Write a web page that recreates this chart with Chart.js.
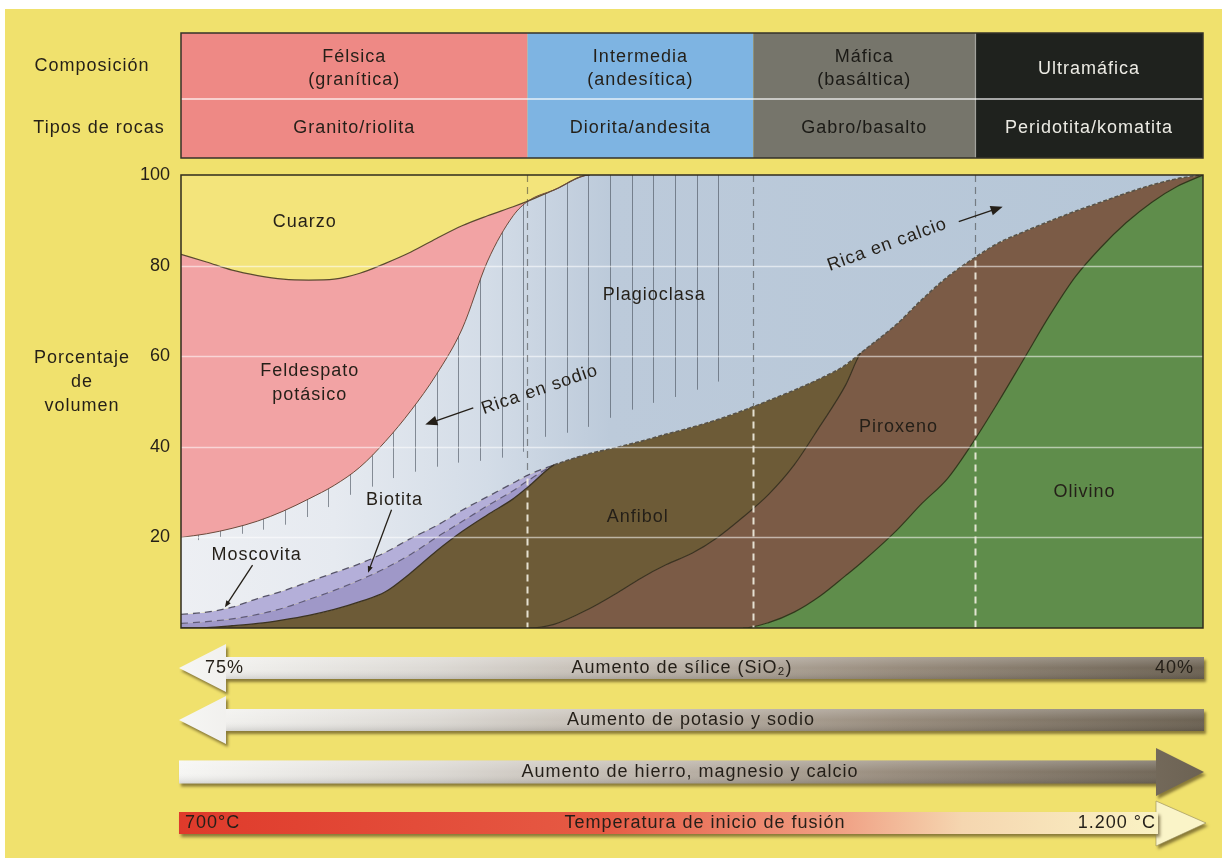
<!DOCTYPE html>
<html lang="es">
<head>
<meta charset="utf-8">
<title>Composición mineral de las rocas ígneas</title>
<script src="https://cdn.jsdelivr.net/npm/chart.js@4.4.1/dist/chart.umd.min.js"></script>
<style>
  html, body { margin: 0; padding: 0; background: #fff; }
  #wrap { width: 1232px; height: 858px; }
</style>
</head>
<body>
<div id="wrap"><canvas id="rocas" width="1232" height="858"></canvas></div>
<script>
// posición horizontal: 0 = extremo félsico, 100 = extremo ultramáfico
const posicion = [0, 2.5, 5, 7.5, 10, 12.5, 15, 17.5, 20, 22.5, 25, 27.5, 30, 32.5, 34, 36.5,
  40, 42.5, 45, 47.5, 50, 52.5, 55, 57.5, 60, 62.5, 65, 66.5, 70, 72.5, 75, 77.5, 80, 82.5,
  85, 87.5, 90, 92.5, 95, 97.5, 100];

// límites superiores (% de volumen acumulado) de cada mineral
const olivino = [0, 0, 0, 0, 0, 0, 0, 0, 0, 0, 0, 0, 0, 0, 0, 0, 0, 0, 0, 0, 0, 0, 0,
  1.2, 3.5, 7, 11.5, 14.3, 21.5, 27.5, 33, 41, 50, 59.5, 69, 77.5, 84, 89.5, 94, 97.5, 100];
const piroxeno = [0, 0, 0, 0, 0, 0, 0, 0, 0, 0, 0, 0, 0, 0, 0, 0.8,
  4.3, 7.5, 11, 14, 16.5, 20, 24.5, 29.5, 36, 44.5, 53.5, 60.7, 67, 72.5, 77.5, 81.5, 85, 87.5,
  89.8, 92, 94, 96, 97.8, 99.2, 100];
const anfibol = [0, 0.1, 0.5, 1, 1.8, 2.8, 4.1, 5.8, 8, 12.2, 17, 21.3, 25, 28.5, 31.2, 36,
  38.5, 39.8, 41.2, 42.8, 44.3, 46, 48, 50.2, 52.5, 55, 58, 60.7, 67, 72.5, 77.5, 81.5, 85, 87.5,
  89.8, 92, 94, 96, 97.8, 99.2, 100];
const biotitaBaja = [1, 1.4, 2, 3, 4.4, 6.3, 8.3, 10.6, 13.2, 16.3, 20, 23.5, 27, 30.3, 32.6, 36,
  38.5, 39.8, 41.2, 42.8, 44.3, 46, 48, 50.2, 52.5, 55, 58, 60.7, 67, 72.5, 77.5, 81.5, 85, 87.5,
  89.8, 92, 94, 96, 97.8, 99.2, 100];
const biotitaAlta = [3, 3.5, 4.6, 6.5, 8.2, 10.2, 12.2, 14.2, 16.7, 19.8, 22.6, 26, 29, 32, 33.8, 36,
  38.5, 39.8, 41.2, 42.8, 44.3, 46, 48, 50.2, 52.5, 55, 58, 60.7, 67, 72.5, 77.5, 81.5, 85, 87.5,
  89.8, 92, 94, 96, 97.8, 99.2, 100];
const plagioclasa = [20, 20.8, 22, 23.6, 25.8, 28.5, 31.5, 35.5, 41.2, 48, 56, 66, 81, 91, 94.3, 96.7,
  100, 100, 100, 100, 100, 100, 100, 100, 100, 100, 100, 100, 100, 100, 100, 100, 100, 100,
  100, 100, 100, 100, 100, 100, 100];
const feldespato = [82.5, 80.8, 79, 77.8, 77, 76.8, 77, 78.3, 80.5, 83, 86, 88.8, 91, 93, 94.3, 96.7,
  100, 100, 100, 100, 100, 100, 100, 100, 100, 100, 100, 100, 100, 100, 100, 100, 100, 100,
  100, 100, 100, 100, 100, 100, 100];

// rayado de la plagioclasa rica en sodio: posición y extremo inferior (%)
const sodioPos = [1.7, 3.8, 6, 8, 10.2, 12.3, 14.4, 16.5, 18.7, 20.7, 22.9, 25, 27.1, 29.3, 31.4,
  33.5, 35.6, 37.8, 39.8, 42, 44.1, 46.2, 48.3, 50.5, 52.5];
const sodioBase = [19.4, 20.1, 20.8, 21.7, 22.8, 24.5, 26.7, 29.4, 31.2, 33.1, 34.5, 35.6, 36.5, 36.9,
  37.6, 38.9, 42.2, 43.1, 44.4, 46.4, 48.2, 49.7, 51, 52.6, 54.4];

// tipos de composición y rocas
const limitesComposicion = [0, 33.9, 56, 77.7, 100];
const composiciones = [["Félsica", "(granítica)"], ["Intermedia", "(andesítica)"], ["Máfica", "(basáltica)"], ["Ultramáfica"]];
const tiposRoca = ["Granito/riolita", "Diorita/andesita", "Gabro/basalto", "Peridotita/komatita"];
const ticksY = [0, 20, 40, 60, 80, 100];

const fuente = '"Liberation Sans", Arial, Helvetica, sans-serif';
const tinta = "#241f18";
const transparente = "rgba(0,0,0,0)";
const lineaOscura = "#3a3222";

const puntos = (serie) => serie.map((v, i) => ({ x: posicion[i], y: v }));

function interpolar(xs, ys, x) {
  for (let i = 1; i < xs.length; i++) {
    if (x <= xs[i]) {
      const t = (x - xs[i - 1]) / (xs[i] - xs[i - 1]);
      return ys[i - 1] + t * (ys[i] - ys[i - 1]);
    }
  }
  return ys[ys.length - 1];
}

function texto(ctx, str, x, y, opts = {}) {
  ctx.save();
  ctx.font = (opts.weight || "normal") + " " + (opts.size || 18) + "px " + fuente;
  if ("letterSpacing" in ctx) ctx.letterSpacing = (opts.spacing ?? 1) + "px";
  ctx.fillStyle = opts.color || tinta;
  ctx.textAlign = opts.align || "center";
  ctx.textBaseline = "middle";
  ctx.translate(x, y);
  if (opts.angle) ctx.rotate((opts.angle * Math.PI) / 180);
  ctx.fillText(str, 0, 0);
  ctx.restore();
}

function flecha(ctx, x1, y1, x2, y2, head) {
  const a = Math.atan2(y2 - y1, x2 - x1);
  ctx.save();
  ctx.strokeStyle = tinta;
  ctx.fillStyle = tinta;
  ctx.lineWidth = 1.3;
  ctx.beginPath();
  ctx.moveTo(x1, y1);
  ctx.lineTo(x2 - Math.cos(a) * head * 0.7, y2 - Math.sin(a) * head * 0.7);
  ctx.stroke();
  ctx.beginPath();
  ctx.moveTo(x2, y2);
  ctx.lineTo(x2 - head * Math.cos(a - 0.38), y2 - head * Math.sin(a - 0.38));
  ctx.lineTo(x2 - head * Math.cos(a + 0.38), y2 - head * Math.sin(a + 0.38));
  ctx.closePath();
  ctx.fill();
  ctx.restore();
}

const fondo = {
  id: "fondo",
  beforeDraw(chart) {
    const ctx = chart.ctx;
    ctx.save();
    ctx.fillStyle = "#ffffff";
    ctx.fillRect(0, 0, chart.width, chart.height);
    ctx.fillStyle = "#F0E16D";
    ctx.fillRect(5, 9, 1217, 849);
    ctx.restore();
  },
};

// líneas verticales de la plagioclasa rica en sodio (bajo el feldespato y el cuarzo)
const rayado = {
  id: "rayado",
  afterDatasetDraw(chart, args) {
    if (args.index !== 5) return;
    const { ctx, chartArea: a, scales: { x, y } } = chart;
    ctx.save();
    ctx.beginPath();
    ctx.rect(a.left, a.top, a.width, a.height);
    ctx.clip();
    ctx.strokeStyle = "rgba(70,78,90,0.6)";
    ctx.lineWidth = 1;
    sodioPos.forEach((p, i) => {
      const px = Math.round(x.getPixelForValue(p)) + 0.5;
      ctx.beginPath();
      ctx.moveTo(px, y.getPixelForValue(100));
      ctx.lineTo(px, y.getPixelForValue(sodioBase[i]));
      ctx.stroke();
    });
    ctx.restore();
  },
};

const superpuesto = {
  id: "superpuesto",
  afterDatasetsDraw(chart) {
    const { ctx, chartArea: a, scales: { x, y } } = chart;
    ctx.save();
    // rejilla horizontal
    ctx.strokeStyle = "rgba(255,255,255,0.55)";
    ctx.lineWidth = 1.6;
    ticksY.slice(1, -1).forEach((v) => {
      const py = Math.round(y.getPixelForValue(v)) + 0.5;
      ctx.beginPath();
      ctx.moveTo(a.left, py);
      ctx.lineTo(a.right, py);
      ctx.stroke();
    });
    // divisiones de composición
    limitesComposicion.slice(1, -1).forEach((lim) => {
      const px = Math.round(x.getPixelForValue(lim)) + 0.5;
      const corte = y.getPixelForValue(interpolar(posicion, biotitaAlta, lim));
      ctx.setLineDash([7, 5]);
      ctx.strokeStyle = "rgba(60,60,60,0.55)";
      ctx.lineWidth = 1.2;
      ctx.beginPath();
      ctx.moveTo(px, a.top);
      ctx.lineTo(px, corte);
      ctx.stroke();
      ctx.strokeStyle = "rgba(242,238,225,0.9)";
      ctx.lineWidth = 2;
      ctx.beginPath();
      ctx.moveTo(px, corte + 3);
      ctx.lineTo(px, a.bottom);
      ctx.stroke();
    });
    ctx.setLineDash([]);
    // marco
    ctx.strokeStyle = "#2f2b1e";
    ctx.lineWidth = 1.5;
    ctx.strokeRect(a.left, a.top, a.width, a.height);
    ctx.restore();

    const P = (u, v) => [x.getPixelForValue(u), y.getPixelForValue(v)];
    const rotulos = [
      ["Cuarzo", 12.1, 89.7],
      ["Feldespato", 12.6, 56.8],
      ["potásico", 12.6, 51.5],
      ["Plagioclasa", 46.3, 73.4],
      ["Biotita", 20.9, 28.3],
      ["Moscovita", 7.4, 16.1],
      ["Anfibol", 44.7, 24.5],
      ["Piroxeno", 70.2, 44.4],
      ["Olivino", 88.4, 30],
    ];
    rotulos.forEach(([t, u, v]) => {
      const [px, py] = P(u, v);
      texto(ctx, t, px, py);
    });
    let [px, py] = P(35.1, 52.6);
    texto(ctx, "Rica en sodio", px, py, { angle: -19 });
    [px, py] = P(69.1, 84.6);
    texto(ctx, "Rica en calcio", px, py, { angle: -20 });
    flecha(ctx, ...P(28.6, 48.6), ...P(23.9, 44.9), 13);
    flecha(ctx, ...P(76.1, 89.7), ...P(80.4, 93), 13);
    flecha(ctx, ...P(20.6, 26.1), ...P(18.3, 12.2), 7);
    flecha(ctx, ...P(7.0, 13.9), ...P(4.3, 4.6), 7);
  },
  afterDraw(chart) {
    const { ctx, chartArea: a, scales: { x } } = chart;
    // tabla de cabecera
    const top = 33, mid = 99, bottom = 158;
    const colores = ["#EE8985", "#7EB4E2", "#76756B", "#1F221E"];
    const letras = [tinta, tinta, "#1b1a16", "#ecebe4"];
    ctx.save();
    composiciones.forEach((nombre, i) => {
      const x0 = x.getPixelForValue(limitesComposicion[i]);
      const x1 = x.getPixelForValue(limitesComposicion[i + 1]);
      ctx.fillStyle = colores[i];
      ctx.fillRect(x0, top, x1 - x0, bottom - top);
      const cx = (x0 + x1) / 2;
      if (nombre.length === 2) {
        texto(ctx, nombre[0], cx, 57, { color: letras[i] });
        texto(ctx, nombre[1], cx, 80, { color: letras[i] });
      } else {
        texto(ctx, nombre[0], cx, 69, { color: letras[i] });
      }
      texto(ctx, tiposRoca[i], cx, 128, { color: letras[i] });
      if (i === 3) {
        ctx.strokeStyle = "rgba(255,255,255,0.55)";
        ctx.lineWidth = 1.2;
        ctx.beginPath();
        ctx.moveTo(Math.round(x0) + 0.5, top);
        ctx.lineTo(Math.round(x0) + 0.5, bottom);
        ctx.stroke();
      }
    });
    ctx.strokeStyle = "rgba(255,255,255,0.8)";
    ctx.lineWidth = 1.5;
    ctx.beginPath();
    ctx.moveTo(a.left, mid);
    ctx.lineTo(a.right, mid);
    ctx.stroke();
    ctx.strokeStyle = "#34322a";
    ctx.lineWidth = 1.5;
    ctx.strokeRect(a.left, top, a.right - a.left, bottom - top);
    ctx.restore();

    texto(ctx, "Composición", 92, 66);
    texto(ctx, "Tipos de rocas", 99, 128);
    texto(ctx, "Porcentaje", 82, 358);
    texto(ctx, "de", 82, 382);
    texto(ctx, "volumen", 82, 406);

    // flechas inferiores
    const gris = (x0, x1) => {
      const g = ctx.createLinearGradient(x0, 0, x1, 0);
      g.addColorStop(0, "#F6F6F4");
      g.addColorStop(0.25, "#DCD9D4");
      g.addColorStop(0.45, "#BFB7AD");
      g.addColorStop(0.7, "#988C7D");
      g.addColorStop(1, "#6C6253");
      return g;
    };
    const sombra = () => {
      ctx.shadowColor = "rgba(70,55,20,0.6)";
      ctx.shadowOffsetX = 2;
      ctx.shadowOffsetY = 3;
      ctx.shadowBlur = 3;
    };
    const brillo = (x0, x1, yc, h) => {
      const g = ctx.createLinearGradient(0, yc - h / 2, 0, yc + h / 2);
      g.addColorStop(0, "rgba(255,255,255,0.22)");
      g.addColorStop(0.5, "rgba(255,255,255,0)");
      g.addColorStop(1, "rgba(0,0,0,0.12)");
      ctx.fillStyle = g;
      ctx.fillRect(x0, yc - h / 2, x1 - x0, h);
    };
    const izquierda = (yc) => {
      const x0 = 179, base = 226, x1 = 1204, h = 22, ala = 24;
      ctx.save();
      sombra();
      ctx.fillStyle = gris(x0, x1);
      ctx.beginPath();
      ctx.moveTo(x0, yc);
      ctx.lineTo(base, yc - ala);
      ctx.lineTo(base, yc - h / 2);
      ctx.lineTo(x1, yc - h / 2);
      ctx.lineTo(x1, yc + h / 2);
      ctx.lineTo(base, yc + h / 2);
      ctx.lineTo(base, yc + ala);
      ctx.closePath();
      ctx.fill();
      ctx.restore();
      ctx.save();
      brillo(base, x1, yc, h);
      ctx.restore();
    };
    izquierda(668);
    izquierda(720);

    // hierro, magnesio y calcio
    ctx.save();
    sombra();
    ctx.fillStyle = gris(179, 1204);
    ctx.beginPath();
    ctx.moveTo(179, 760.5);
    ctx.lineTo(1156, 760.5);
    ctx.lineTo(1156, 748);
    ctx.lineTo(1204, 772);
    ctx.lineTo(1156, 796);
    ctx.lineTo(1156, 783.5);
    ctx.lineTo(179, 783.5);
    ctx.closePath();
    ctx.fill();
    ctx.restore();
    ctx.save();
    brillo(179, 1156, 772, 23);
    ctx.restore();

    // temperatura
    ctx.save();
    sombra();
    ctx.fillStyle = "#FAF4C8";
    ctx.beginPath();
    ctx.moveTo(1156, 801);
    ctx.lineTo(1206, 823);
    ctx.lineTo(1156, 846);
    ctx.closePath();
    ctx.fill();
    const rojo = ctx.createLinearGradient(179, 0, 1158, 0);
    rojo.addColorStop(0, "#DF3A2B");
    rojo.addColorStop(0.43, "#E65A44");
    rojo.addColorStop(0.6, "#EE8C72");
    rojo.addColorStop(0.68, "#F0A286");
    rojo.addColorStop(0.8, "#F5D6B0");
    rojo.addColorStop(1, "#FAF2C4");
    ctx.fillStyle = rojo;
    ctx.fillRect(179, 812, 979, 22);
    ctx.restore();
    ctx.save();
    ctx.strokeStyle = "rgba(150,140,90,0.6)";
    ctx.lineWidth = 1;
    ctx.beginPath();
    ctx.moveTo(1156, 812);
    ctx.lineTo(1156, 801);
    ctx.lineTo(1206, 823);
    ctx.lineTo(1156, 846);
    ctx.lineTo(1156, 834);
    ctx.stroke();
    ctx.restore();

    texto(ctx, "75%", 205, 668, { align: "left" });
    texto(ctx, "Aumento de sílice (SiO₂)", 682, 668);
    texto(ctx, "40%", 1194, 668, { align: "right" });
    texto(ctx, "Aumento de potasio y sodio", 691, 720);
    texto(ctx, "Aumento de hierro, magnesio y calcio", 690, 772);
    texto(ctx, "700°C", 185, 823, { align: "left" });
    texto(ctx, "Temperatura de inicio de fusión", 705, 823);
    texto(ctx, "1.200 °C", 1156, 823, { align: "right" });
  },
};

Chart.defaults.font.family = fuente;

// rellenos: se pintan de abajo (olivino) hacia arriba; order mayor = se dibuja antes
const relleno = (label, serie, fill, color, order) => ({
  label, data: puntos(serie), fill, backgroundColor: color, borderWidth: 0, order,
});
// contornos: sólo línea, encima de todos los rellenos
const contorno = (label, serie, segment, width) => ({
  label, data: puntos(serie), fill: false, borderWidth: width, order: 0, segment,
});

const gradientePlagioclasa = (c) => {
  const a = c.chart.chartArea;
  if (!a) return "#D5DEE8";
  const g = c.chart.ctx.createLinearGradient(a.left, 0, a.right, 0);
  g.addColorStop(0, "#EDEFF3");
  g.addColorStop(0.15, "#E6EAF0");
  g.addColorStop(0.3, "#D3DCE7");
  g.addColorStop(0.42, "#BCCADA");
  g.addColorStop(1, "#B5C6D7");
  return g;
};

const ctx = document.getElementById("rocas").getContext("2d");
const rocasChart = new Chart(ctx, {
  type: "line",
  data: {
    datasets: [
      relleno("Olivino", olivino, "origin", "#5F8D4B", 10),
      relleno("Piroxeno", piroxeno, "-1", "#7B5B46", 9),
      relleno("Anfíbol", anfibol, "-1", "#6D5B37", 8),
      relleno("Biotita", biotitaBaja, "-1", "#9F98C8", 7),
      relleno("Biotita (borde)", biotitaAlta, "-1", "#B4AFD9", 6),
      relleno("Moscovita / Plagioclasa", plagioclasa, "-1", gradientePlagioclasa, 5),
      relleno("Feldespato potásico", feldespato, "-1", "#F2A3A4", 4),
      relleno("Cuarzo", feldespato, "end", "#F3E47B", 3),

      contorno("borde olivino", olivino, {
        borderColor: (c) => (c.p0.parsed.x >= 55 ? "#30381c" : transparente),
      }, 1.2),
      contorno("borde piroxeno", piroxeno, {
        borderColor: (c) => (c.p0.parsed.x >= 34 && c.p1.parsed.x <= 66.5 ? lineaOscura : transparente),
      }, 1.2),
      contorno("borde anfíbol", anfibol, {
        borderColor: (c) => (c.p1.parsed.x <= 36.5 ? lineaOscura : transparente),
      }, 1.3),
      contorno("borde biotita", biotitaBaja, {
        borderColor: (c) => (c.p1.parsed.x <= 36.5 ? "#5f5b7a" : transparente),
        borderDash: [7, 5],
      }, 1.2),
      contorno("borde plagioclasa", biotitaAlta, {
        borderColor: (c) => (c.p1.parsed.x <= 36.5 ? "#56546a" : "#57524a"),
        borderDash: (c) => (c.p1.parsed.x <= 36.5 ? [7, 5] : [4, 2]),
        borderWidth: (c) => (c.p1.parsed.x <= 36.5 ? 1.3 : 1.6),
      }, 1.3),
      contorno("borde feldespato", plagioclasa, {
        borderColor: (c) => (c.p1.parsed.x <= 40 ? "#6b4a40" : transparente),
      }, 1),
      contorno("borde cuarzo", feldespato, {
        borderColor: (c) => (c.p1.parsed.x <= 40 ? "#5a4a30" : transparente),
      }, 1.2),
    ],
  },
  options: {
    responsive: false,
    devicePixelRatio: 1,
    animation: false,
    layout: { padding: { left: 0, right: 29, top: 175, bottom: 230 } },
    elements: {
      point: { radius: 0 },
      line: { cubicInterpolationMode: "monotone" },
    },
    plugins: {
      legend: { display: false },
      tooltip: { enabled: false },
    },
    scales: {
      x: { type: "linear", min: 0, max: 100, display: false },
      y: {
        min: 0,
        max: 100,
        afterBuildTicks: (scale) => {
          scale.ticks = ticksY.map((v) => ({ value: v }));
        },
        afterFit: (scale) => {
          scale.width = 181;
        },
        ticks: {
          callback: (v) => (v === 0 ? "" : v),
          color: tinta,
          padding: 11,
          font: { size: 18 },
        },
        grid: { display: false, drawTicks: false },
        border: { display: false },
      },
    },
  },
  plugins: [fondo, rayado, superpuesto],
});
</script>
</body>
</html>
